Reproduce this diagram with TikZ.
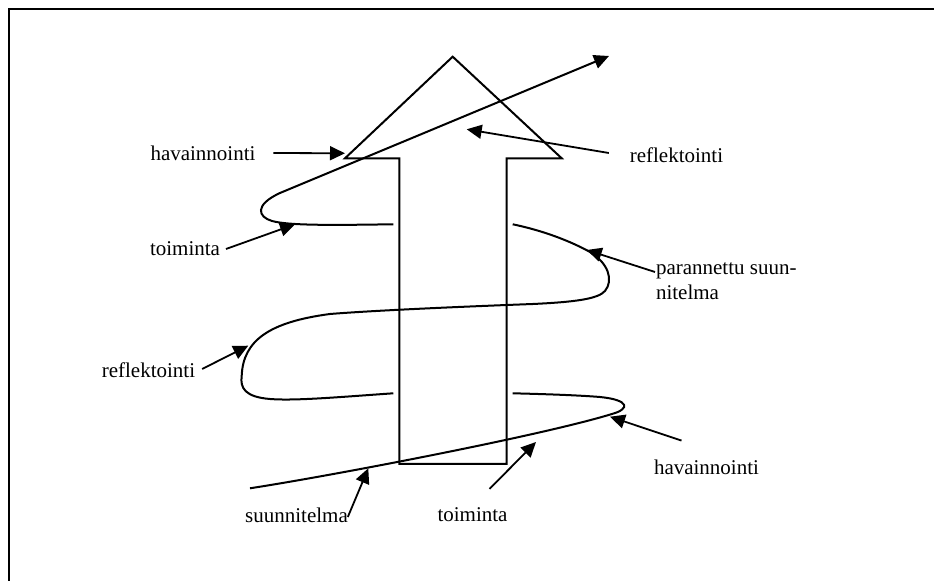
\documentclass[tikz,border=0pt]{standalone}
\usepackage{fontspec}
\setmainfont{Liberation Serif}
\usetikzlibrary{arrows.meta}

\begin{document}
\begin{tikzpicture}[x=0.5pt,y=-0.5pt,line width=1pt,>={Triangle[length=7.5pt,width=7pt]},
    label node/.style={inner sep=0pt,font=\fontsize{10.5}{12.5}\selectfont},
    pil/.style={->,line width=0.9pt}]
    \path[use as bounding box,fill=white] (0,0) rectangle (934,581);
    \draw (9,581) -- (9,9) -- (934,9);

    \draw[line join=miter] (345,158.3) -- (452.7,56.7) -- (561.7,158.3) -- (506.7,158.3)
        -- (506.7,464) -- (399.3,464) -- (399.3,158.3) -- cycle;

    \draw (250,488.3) .. controls (330,476) and (540,436) .. (612,414)
        .. controls (630,409) and (630,400) .. (600,397)
        .. controls (575,395) and (540,394) .. (512.7,393.3);
    \draw (393.3,393.3) .. controls (340,397) and (295,401) .. (270,399)
        .. controls (245,397) and (240,388) .. (241.7,376)
        .. controls (243,340) and (270,322) .. (330,314)
        .. controls (380,310) and (480,306) .. (533,304)
        .. controls (575,302) and (598,299) .. (605,291)
        .. controls (614,280) and (608,263) .. (590,252)
        .. controls (572,242) and (545,231) .. (512.7,224.3);
    \draw[->] (393.3,224.3) .. controls (340,225) and (290,226) .. (272,221)
        .. controls (258,217) and (254,205) .. (280,193) -- (609,56);

    \coordinate (t1) at (345,153.3);
    \coordinate (t2) at (466.7,129.3);
    \coordinate (t3) at (295,224.3);
    \coordinate (t4) at (586.7,250);
    \coordinate (t5) at (248.3,345.7);
    \coordinate (t6) at (610,416.7);
    \coordinate (t7) at (368.3,468.3);
    \coordinate (t8) at (536,442);

    \node[label node] (hav1) at (203,153) {havainnointi};
    \node[label node] (ref1) at (676.5,155) {reflektointi};
    \node[label node] (toi1) at (185,249) {toiminta};
    \node[label node,anchor=north west,align=left] (par) at (655,262) {parannettu suun-\\nitelma};
    \node[label node] (ref2) at (148.5,370) {reflektointi};
    \node[label node] (hav2) at (706.5,467) {havainnointi};
    \node[label node] (suu) at (296.5,515) {suunnitelma};
    \node[label node] (toi2) at (472.5,515) {toiminta};

    \draw[pil] ([shift={(17,0)}]hav1.east) -- (t1);
    \draw[pil] ([shift={(-20,-2)}]ref1.west) -- (t2);
    \draw[pil] ([shift={(5,0)}]toi1.east) -- (t3);
    \draw[pil] ([shift={(0,10)}]par.north west) -- (t4);
    \draw[pil] ([shift={(6,-1)}]ref2.east) -- (t5);
    \draw[pil] ([shift={(-25,-18)}]hav2.north) -- (t6);
    \draw[pil] ([shift={(-1,2)}]suu.east) -- (t7);
    \draw[pil] ([shift={(17,-18)}]toi2.north) -- (t8);
\end{tikzpicture}
\end{document}
